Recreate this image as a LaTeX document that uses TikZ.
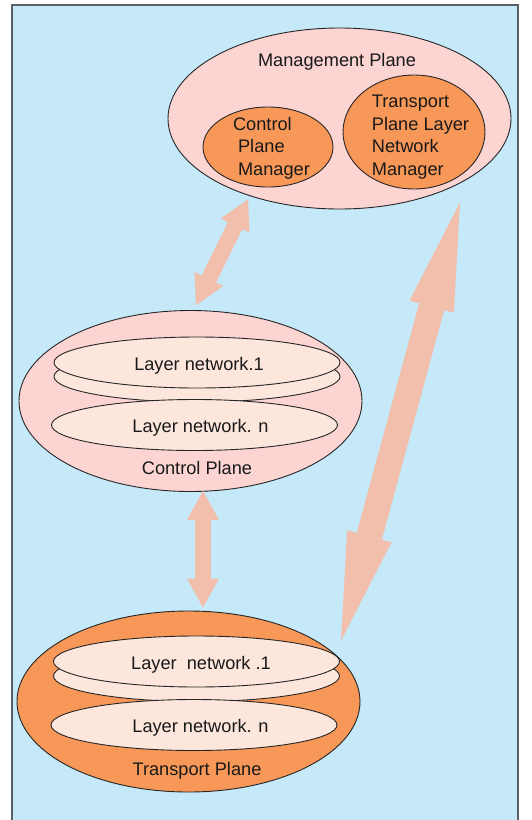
\documentclass[tikz,border=0pt]{standalone}
\usepackage{fontspec}
\setmainfont{Liberation Sans}
\usepackage{tikz}
\usetikzlibrary{arrows.meta,shapes.geometric}
\usepackage{xcolor}
\definecolor{skyblue}{HTML}{C6E9F9}
\definecolor{framegray}{HTML}{5A5F66}
\definecolor{planepink}{HTML}{FCD5D3}
\definecolor{mgrorange}{HTML}{F79859}
\definecolor{layerfill}{HTML}{FDE7DD}
\definecolor{flowarrow}{HTML}{F2BFAC}
\newcommand\planefont{\fontsize{18.2}{22.5}\selectfont}

\begin{document}
\begin{tikzpicture}[x=1pt, y=-1pt,
  plane/.style={ellipse, draw=black!85, line width=0.9pt, minimum width=343pt, minimum height=181pt, inner sep=0pt},
  mgr/.style={ellipse, draw=black!85, line width=0.9pt, fill=mgrorange, inner sep=0pt},
  layer/.style={ellipse, draw=black!85, line width=0.9pt, fill=layerfill, minimum width=286pt, minimum height=51pt, inner sep=0pt, text height=18pt, text depth=3pt, font=\planefont, text=black!90},
  lbl/.style={inner sep=0pt, text height=13pt, text depth=4pt, font=\planefont, text=black!90},
  txt/.style={inner sep=0pt, align=left, font=\planefont, text=black!90},
  flow/.style={draw=flowarrow, line width=16pt, {Triangle[length=29pt 0 0, width=32pt 0 0, line width=0pt]}-{Triangle[length=29pt 0 0, width=32pt 0 0, line width=0pt]}},
  bigflow/.style={draw=flowarrow, line width=26pt, {Triangle[length=108pt 0 0, width=46pt 0 0, line width=0pt]}-{Triangle[length=108pt 0 0, width=46pt 0 0, line width=0pt]}}
]
\useasboundingbox (0,0) rectangle (531,820);
\draw[draw=framegray, fill=skyblue, line width=2pt] (12,5) rectangle (518,840);

\node[plane, fill=planepink] (mgmt) at (339.5,118.5) {};
\node[lbl] (mgmtlbl) at ([xshift=-2.5pt, yshift=-34.5pt]mgmt.north) {Management Plane};
\node[mgr, minimum width=130pt, minimum height=80pt] (cpm) at (268,147) {};
\node[txt] (cpmlbl) at ([xshift=3.5pt, yshift=-1pt]cpm.center) {Control\\\hspace{5pt}Plane\\\hspace{5pt}Manager};
\node[mgr, minimum width=142pt, minimum height=114pt] (tpm) at (414,132) {};
\node[txt] (tpmlbl) at ([xshift=6.5pt, yshift=-5pt]tpm.center) {Transport\\Plane Layer\\Network\\Manager};

\node[plane, fill=planepink] (ctrl) at (190.5,401) {};
\node[layer] (cl1back) at (197,376.5) {};
\node[layer] (cl1) at ([yshift=14pt]cl1back.center) {\hspace{4pt}Layer network.1};
\node[layer] (cln) at (194.5,425) {\hspace{12pt}Layer network. n};
\node[lbl] (ctrllbl) at ([xshift=6.5pt, yshift=22pt]ctrl.south) {Control Plane};

\node[plane, fill=mgrorange] (trans) at (188.5,701.5) {};
\node[layer] (tl1back) at (196.5,676) {};
\node[layer] (tl1) at ([yshift=14.5pt]tl1back.center) {\hspace{9pt}Layer\ \ network .1};
\node[layer] (tln) at (194,725) {\hspace{13pt}Layer network. n};
\node[lbl] (translbl) at ([xshift=8.5pt, yshift=21.5pt]trans.south) {Transport Plane};

\draw[flow] ([shift={(-91.5,-10)}]mgmt.south) -- ([shift={(5.5,-5)}]ctrl.north);
\draw[flow] ([shift={(12.5,-1)}]ctrl.south) -- ([shift={(14.5,-3)}]trans.north);
\draw[bigflow] ([shift={(46,13)}]tpm.south) -- ([shift={(152.5,30)}]trans.north);
\end{tikzpicture}
\end{document}
